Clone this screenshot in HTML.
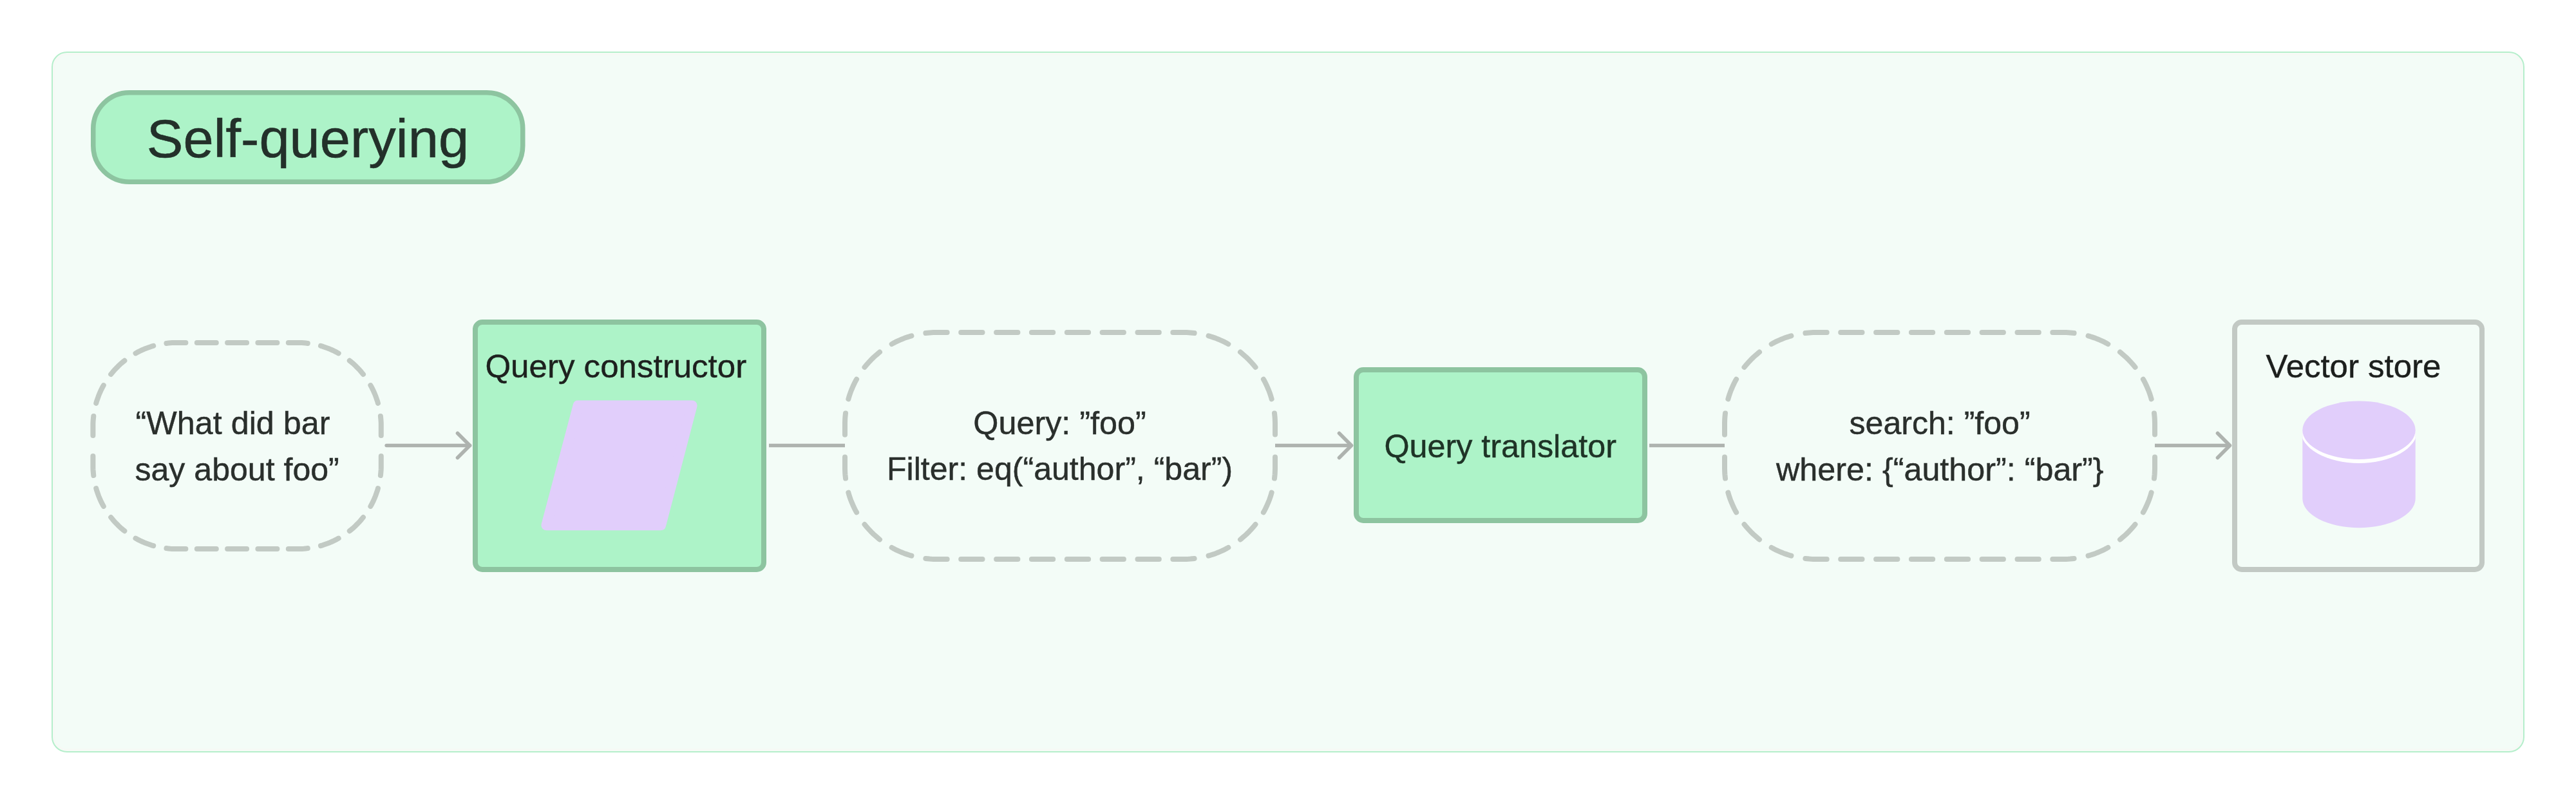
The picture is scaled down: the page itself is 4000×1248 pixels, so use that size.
<!DOCTYPE html>
<html><head><meta charset="utf-8"><title>Self-querying</title>
<style>html,body{margin:0;padding:0;background:#FFFFFF;}svg{display:block}text{font-family:"Liberation Sans",sans-serif;}</style>
</head><body>
<svg width="4000" height="1248" viewBox="0 0 4000 1248">
<rect x='81' y='81' width='3838' height='1086' rx='23' ry='23' fill='#F3FCF7' stroke='#B5EECB' stroke-width='2'/>
<rect x='84.2' y='84.2' width='3831.6' height='1079.6' rx='20' ry='20' fill='none' stroke='#F6F9F5' stroke-width='3'/>
<rect x='144.75' y='143.75' width='667' height='138.5' rx='56' ry='56' fill='#ADF3C8' stroke='#8DC4A0' stroke-width='7.5'/>
<path d='M258.4 532.9 L261.4 532.6 L264.4 532.3 L267.4 532.1 L270.4 532.0 L273.4 532.0 L276.4 532.0 L279.4 532.0 L282.4 532.0 L285.4 532.0 L288.4 532.0 M305.8 532.0 L308.8 532.0 L311.8 532.0 L314.8 532.0 L317.8 532.0 L320.8 532.0 L323.8 532.0 L326.8 532.0 L329.8 532.0 L332.8 532.0 L335.8 532.0 M353.1 532.0 L356.1 532.0 L359.1 532.0 L362.1 532.0 L365.1 532.0 L368.1 532.0 L371.1 532.0 L374.1 532.0 L377.1 532.0 L380.1 532.0 L383.1 532.0 M400.4 532.0 L403.4 532.0 L406.4 532.0 L409.4 532.0 L412.4 532.0 L415.4 532.0 L418.4 532.0 L421.4 532.0 L424.4 532.0 L427.4 532.0 L430.4 532.0 M447.8 532.0 L450.8 532.0 L453.8 532.0 L456.8 532.0 L459.8 532.0 L462.8 532.0 L465.8 532.0 L468.8 532.1 L471.8 532.3 L474.8 532.6 L477.8 532.9 M498.0 536.9 L500.9 537.7 L503.7 538.7 L506.6 539.7 L509.4 540.7 L512.2 541.8 L514.9 543.0 L517.7 544.2 L520.4 545.6 L523.0 546.9 L525.7 548.4 M542.8 559.8 L545.1 561.7 L547.4 563.6 L549.7 565.6 L551.9 567.7 L554.0 569.8 L556.1 571.9 L558.2 574.1 L560.2 576.4 L562.1 578.7 L564.0 581.0 M575.4 598.1 L576.9 600.8 L578.2 603.4 L579.6 606.1 L580.8 608.9 L582.0 611.6 L583.1 614.4 L584.1 617.2 L585.1 620.1 L586.1 622.9 L586.9 625.8 M590.9 646.0 L591.2 649.0 L591.5 652.0 L591.7 655.0 L591.8 658.0 L591.8 661.0 L591.8 664.0 L591.8 667.0 L591.8 670.0 L591.8 673.0 L591.8 676.0 M591.8 708.0 L591.8 711.0 L591.8 714.0 L591.8 717.0 L591.8 720.0 L591.8 723.0 L591.8 726.0 L591.7 729.0 L591.5 732.0 L591.2 735.0 L590.9 738.0 M586.9 758.2 L586.1 761.1 L585.1 763.9 L584.1 766.8 L583.1 769.6 L582.0 772.4 L580.8 775.1 L579.6 777.9 L578.2 780.6 L576.9 783.2 L575.4 785.9 M564.0 803.0 L562.1 805.3 L560.2 807.6 L558.2 809.9 L556.1 812.1 L554.0 814.2 L551.9 816.3 L549.7 818.4 L547.4 820.4 L545.1 822.3 L542.8 824.2 M525.7 835.6 L523.0 837.1 L520.4 838.4 L517.7 839.8 L514.9 841.0 L512.2 842.2 L509.4 843.3 L506.6 844.3 L503.7 845.3 L500.9 846.3 L498.0 847.1 M477.8 851.1 L474.8 851.4 L471.8 851.7 L468.8 851.9 L465.8 852.0 L462.8 852.0 L459.8 852.0 L456.8 852.0 L453.8 852.0 L450.8 852.0 L447.8 852.0 M430.4 852.0 L427.4 852.0 L424.4 852.0 L421.4 852.0 L418.4 852.0 L415.4 852.0 L412.4 852.0 L409.4 852.0 L406.4 852.0 L403.4 852.0 L400.4 852.0 M383.1 852.0 L380.1 852.0 L377.1 852.0 L374.1 852.0 L371.1 852.0 L368.1 852.0 L365.1 852.0 L362.1 852.0 L359.1 852.0 L356.1 852.0 L353.1 852.0 M335.8 852.0 L332.8 852.0 L329.8 852.0 L326.8 852.0 L323.8 852.0 L320.8 852.0 L317.8 852.0 L314.8 852.0 L311.8 852.0 L308.8 852.0 L305.8 852.0 M288.4 852.0 L285.4 852.0 L282.4 852.0 L279.4 852.0 L276.4 852.0 L273.4 852.0 L270.4 852.0 L267.4 851.9 L264.4 851.7 L261.4 851.4 L258.4 851.1 M238.2 847.1 L235.3 846.3 L232.5 845.3 L229.6 844.3 L226.8 843.3 L224.0 842.2 L221.3 841.0 L218.5 839.8 L215.8 838.4 L213.2 837.1 L210.5 835.6 M193.4 824.2 L191.1 822.3 L188.8 820.4 L186.5 818.4 L184.3 816.3 L182.2 814.2 L180.1 812.1 L178.0 809.9 L176.0 807.6 L174.1 805.3 L172.2 803.0 M160.8 785.9 L159.3 783.2 L158.0 780.6 L156.6 777.9 L155.4 775.1 L154.2 772.4 L153.1 769.6 L152.1 766.8 L151.1 763.9 L150.1 761.1 L149.3 758.2 M145.3 738.0 L145.0 735.0 L144.7 732.0 L144.5 729.0 L144.4 726.0 L144.4 723.0 L144.4 720.0 L144.4 717.0 L144.4 714.0 L144.4 711.0 L144.4 708.0 M144.4 676.0 L144.4 673.0 L144.4 670.0 L144.4 667.0 L144.4 664.0 L144.4 661.0 L144.4 658.0 L144.5 655.0 L144.7 652.0 L145.0 649.0 L145.3 646.0 M149.3 625.8 L150.1 622.9 L151.1 620.1 L152.1 617.2 L153.1 614.4 L154.2 611.6 L155.4 608.9 L156.6 606.1 L158.0 603.4 L159.3 600.8 L160.8 598.1 M172.2 581.0 L174.1 578.7 L176.0 576.4 L178.0 574.1 L180.1 571.9 L182.2 569.8 L184.3 567.7 L186.5 565.6 L188.8 563.6 L191.1 561.7 L193.4 559.8 M210.5 548.4 L213.2 546.9 L215.8 545.6 L218.5 544.2 L221.3 543.0 L224.0 541.8 L226.8 540.7 L229.6 539.7 L232.5 538.7 L235.3 537.7 L238.2 536.9' fill='none' stroke='#C2CAC4' stroke-width='8' stroke-linecap='round' stroke-linejoin='round'/>
<path d='M1437.4 517.0 L1440.4 516.7 L1443.4 516.4 L1446.4 516.2 L1449.5 516.1 L1452.5 516.0 L1455.5 516.0 L1458.5 516.0 L1461.6 516.0 L1464.6 516.0 L1467.6 516.0 L1470.7 516.0 M1492.2 516.0 L1495.2 516.0 L1498.3 516.0 L1501.3 516.0 L1504.3 516.0 L1507.3 516.0 L1510.4 516.0 L1513.4 516.0 L1516.4 516.0 L1519.5 516.0 L1522.5 516.0 L1525.5 516.0 M1547.1 516.0 L1550.1 516.0 L1553.1 516.0 L1556.1 516.0 L1559.2 516.0 L1562.2 516.0 L1565.2 516.0 L1568.3 516.0 L1571.3 516.0 L1574.3 516.0 L1577.3 516.0 L1580.4 516.0 M1601.9 516.0 L1604.9 516.0 L1608.0 516.0 L1611.0 516.0 L1614.0 516.0 L1617.1 516.0 L1620.1 516.0 L1623.1 516.0 L1626.1 516.0 L1629.2 516.0 L1632.2 516.0 L1635.2 516.0 M1656.8 516.0 L1659.8 516.0 L1662.8 516.0 L1665.9 516.0 L1668.9 516.0 L1671.9 516.0 L1674.9 516.0 L1678.0 516.0 L1681.0 516.0 L1684.0 516.0 L1687.1 516.0 L1690.1 516.0 M1711.6 516.0 L1714.7 516.0 L1717.7 516.0 L1720.7 516.0 L1723.7 516.0 L1726.8 516.0 L1729.8 516.0 L1732.8 516.0 L1735.9 516.0 L1738.9 516.0 L1741.9 516.0 L1744.9 516.0 M1766.5 516.0 L1769.5 516.0 L1772.5 516.0 L1775.6 516.0 L1778.6 516.0 L1781.6 516.0 L1784.7 516.0 L1787.7 516.0 L1790.7 516.0 L1793.7 516.0 L1796.8 516.0 L1799.8 516.0 M1821.3 516.0 L1824.4 516.0 L1827.4 516.0 L1830.4 516.0 L1833.5 516.0 L1836.5 516.0 L1839.5 516.0 L1842.5 516.1 L1845.6 516.2 L1848.6 516.4 L1851.6 516.7 L1854.6 517.0 M1876.6 521.4 L1879.5 522.2 L1882.4 523.1 L1885.3 524.1 L1888.1 525.1 L1890.9 526.2 L1893.7 527.4 L1896.5 528.6 L1899.3 529.9 L1902.0 531.2 L1904.7 532.6 L1907.3 534.1 M1926.0 546.5 L1928.3 548.4 L1930.6 550.4 L1932.9 552.4 L1935.1 554.4 L1937.3 556.5 L1939.5 558.7 L1941.6 560.9 L1943.6 563.1 L1945.6 565.4 L1947.6 567.7 L1949.5 570.0 M1961.9 588.7 L1963.4 591.3 L1964.8 594.0 L1966.1 596.7 L1967.4 599.5 L1968.6 602.3 L1969.8 605.1 L1970.9 607.9 L1971.9 610.7 L1972.9 613.6 L1973.8 616.5 L1974.6 619.4 M1979.0 641.4 L1979.3 644.4 L1979.6 647.4 L1979.8 650.4 L1979.9 653.5 L1980.0 656.5 L1980.0 659.5 L1980.0 662.5 L1980.0 665.6 L1980.0 668.6 L1980.0 671.6 L1980.0 674.6 M1980.0 709.4 L1980.0 712.4 L1980.0 715.4 L1980.0 718.4 L1980.0 721.5 L1980.0 724.5 L1980.0 727.5 L1979.9 730.5 L1979.8 733.6 L1979.6 736.6 L1979.3 739.6 L1979.0 742.6 M1974.6 764.6 L1973.8 767.5 L1972.9 770.4 L1971.9 773.3 L1970.9 776.1 L1969.8 778.9 L1968.6 781.7 L1967.4 784.5 L1966.1 787.3 L1964.8 790.0 L1963.4 792.7 L1961.9 795.3 M1949.5 814.0 L1947.6 816.3 L1945.6 818.6 L1943.6 820.9 L1941.6 823.1 L1939.5 825.3 L1937.3 827.5 L1935.1 829.6 L1932.9 831.6 L1930.6 833.6 L1928.3 835.6 L1926.0 837.5 M1907.3 849.9 L1904.7 851.4 L1902.0 852.8 L1899.3 854.1 L1896.5 855.4 L1893.7 856.6 L1890.9 857.8 L1888.1 858.9 L1885.3 859.9 L1882.4 860.9 L1879.5 861.8 L1876.6 862.6 M1854.6 867.0 L1851.6 867.3 L1848.6 867.6 L1845.6 867.8 L1842.5 867.9 L1839.5 868.0 L1836.5 868.0 L1833.5 868.0 L1830.4 868.0 L1827.4 868.0 L1824.4 868.0 L1821.3 868.0 M1799.8 868.0 L1796.8 868.0 L1793.7 868.0 L1790.7 868.0 L1787.7 868.0 L1784.7 868.0 L1781.6 868.0 L1778.6 868.0 L1775.6 868.0 L1772.5 868.0 L1769.5 868.0 L1766.5 868.0 M1744.9 868.0 L1741.9 868.0 L1738.9 868.0 L1735.9 868.0 L1732.8 868.0 L1729.8 868.0 L1726.8 868.0 L1723.7 868.0 L1720.7 868.0 L1717.7 868.0 L1714.7 868.0 L1711.6 868.0 M1690.1 868.0 L1687.1 868.0 L1684.0 868.0 L1681.0 868.0 L1678.0 868.0 L1674.9 868.0 L1671.9 868.0 L1668.9 868.0 L1665.9 868.0 L1662.8 868.0 L1659.8 868.0 L1656.8 868.0 M1635.2 868.0 L1632.2 868.0 L1629.2 868.0 L1626.1 868.0 L1623.1 868.0 L1620.1 868.0 L1617.1 868.0 L1614.0 868.0 L1611.0 868.0 L1608.0 868.0 L1604.9 868.0 L1601.9 868.0 M1580.4 868.0 L1577.3 868.0 L1574.3 868.0 L1571.3 868.0 L1568.3 868.0 L1565.2 868.0 L1562.2 868.0 L1559.2 868.0 L1556.1 868.0 L1553.1 868.0 L1550.1 868.0 L1547.1 868.0 M1525.5 868.0 L1522.5 868.0 L1519.5 868.0 L1516.4 868.0 L1513.4 868.0 L1510.4 868.0 L1507.3 868.0 L1504.3 868.0 L1501.3 868.0 L1498.3 868.0 L1495.2 868.0 L1492.2 868.0 M1470.7 868.0 L1467.6 868.0 L1464.6 868.0 L1461.6 868.0 L1458.5 868.0 L1455.5 868.0 L1452.5 868.0 L1449.5 867.9 L1446.4 867.8 L1443.4 867.6 L1440.4 867.3 L1437.4 867.0 M1415.4 862.6 L1412.5 861.8 L1409.6 860.9 L1406.7 859.9 L1403.9 858.9 L1401.1 857.8 L1398.3 856.6 L1395.5 855.4 L1392.7 854.1 L1390.0 852.8 L1387.3 851.4 L1384.7 849.9 M1366.0 837.5 L1363.7 835.6 L1361.4 833.6 L1359.1 831.6 L1356.9 829.6 L1354.7 827.5 L1352.5 825.3 L1350.4 823.1 L1348.4 820.9 L1346.4 818.6 L1344.4 816.3 L1342.5 814.0 M1330.1 795.3 L1328.6 792.7 L1327.2 790.0 L1325.9 787.3 L1324.6 784.5 L1323.4 781.7 L1322.2 778.9 L1321.1 776.1 L1320.1 773.3 L1319.1 770.4 L1318.2 767.5 L1317.4 764.6 M1313.0 742.6 L1312.7 739.6 L1312.4 736.6 L1312.2 733.6 L1312.1 730.5 L1312.0 727.5 L1312.0 724.5 L1312.0 721.5 L1312.0 718.4 L1312.0 715.4 L1312.0 712.4 L1312.0 709.4 M1312.0 674.7 L1312.0 671.6 L1312.0 668.6 L1312.0 665.6 L1312.0 662.5 L1312.0 659.5 L1312.0 656.5 L1312.1 653.5 L1312.2 650.4 L1312.4 647.4 L1312.7 644.4 L1313.0 641.4 M1317.4 619.4 L1318.2 616.5 L1319.1 613.6 L1320.1 610.7 L1321.1 607.9 L1322.2 605.1 L1323.4 602.3 L1324.6 599.5 L1325.9 596.7 L1327.2 594.0 L1328.6 591.3 L1330.1 588.7 M1342.5 570.0 L1344.4 567.7 L1346.4 565.4 L1348.4 563.1 L1350.4 560.9 L1352.5 558.7 L1354.7 556.5 L1356.9 554.4 L1359.1 552.4 L1361.4 550.4 L1363.7 548.4 L1366.0 546.5 M1384.7 534.1 L1387.3 532.6 L1390.0 531.2 L1392.7 529.9 L1395.5 528.6 L1398.3 527.4 L1401.1 526.2 L1403.9 525.1 L1406.7 524.1 L1409.6 523.1 L1412.5 522.2 L1415.4 521.4' fill='none' stroke='#C2CAC4' stroke-width='8' stroke-linecap='round' stroke-linejoin='round'/>
<path d='M2803.4 517.0 L2806.4 516.7 L2809.4 516.4 L2812.4 516.2 L2815.5 516.1 L2818.5 516.0 L2821.5 516.0 L2824.5 516.0 L2827.6 516.0 L2830.6 516.0 L2833.6 516.0 L2836.7 516.0 M2858.2 516.0 L2861.2 516.0 L2864.3 516.0 L2867.3 516.0 L2870.3 516.0 L2873.3 516.0 L2876.4 516.0 L2879.4 516.0 L2882.4 516.0 L2885.5 516.0 L2888.5 516.0 L2891.5 516.0 M2913.1 516.0 L2916.1 516.0 L2919.1 516.0 L2922.1 516.0 L2925.2 516.0 L2928.2 516.0 L2931.2 516.0 L2934.3 516.0 L2937.3 516.0 L2940.3 516.0 L2943.3 516.0 L2946.4 516.0 M2967.9 516.0 L2970.9 516.0 L2974.0 516.0 L2977.0 516.0 L2980.0 516.0 L2983.1 516.0 L2986.1 516.0 L2989.1 516.0 L2992.1 516.0 L2995.2 516.0 L2998.2 516.0 L3001.2 516.0 M3022.8 516.0 L3025.8 516.0 L3028.8 516.0 L3031.9 516.0 L3034.9 516.0 L3037.9 516.0 L3040.9 516.0 L3044.0 516.0 L3047.0 516.0 L3050.0 516.0 L3053.1 516.0 L3056.1 516.0 M3077.6 516.0 L3080.7 516.0 L3083.7 516.0 L3086.7 516.0 L3089.7 516.0 L3092.8 516.0 L3095.8 516.0 L3098.8 516.0 L3101.9 516.0 L3104.9 516.0 L3107.9 516.0 L3110.9 516.0 M3132.5 516.0 L3135.5 516.0 L3138.5 516.0 L3141.6 516.0 L3144.6 516.0 L3147.6 516.0 L3150.7 516.0 L3153.7 516.0 L3156.7 516.0 L3159.7 516.0 L3162.8 516.0 L3165.8 516.0 M3187.3 516.0 L3190.4 516.0 L3193.4 516.0 L3196.4 516.0 L3199.5 516.0 L3202.5 516.0 L3205.5 516.0 L3208.5 516.1 L3211.6 516.2 L3214.6 516.4 L3217.6 516.7 L3220.6 517.0 M3242.6 521.4 L3245.5 522.2 L3248.4 523.1 L3251.3 524.1 L3254.1 525.1 L3256.9 526.2 L3259.7 527.4 L3262.5 528.6 L3265.3 529.9 L3268.0 531.2 L3270.7 532.6 L3273.3 534.1 M3292.0 546.5 L3294.3 548.4 L3296.6 550.4 L3298.9 552.4 L3301.1 554.4 L3303.3 556.5 L3305.5 558.7 L3307.6 560.9 L3309.6 563.1 L3311.6 565.4 L3313.6 567.7 L3315.5 570.0 M3327.9 588.7 L3329.4 591.3 L3330.8 594.0 L3332.1 596.7 L3333.4 599.5 L3334.6 602.3 L3335.8 605.1 L3336.9 607.9 L3337.9 610.7 L3338.9 613.6 L3339.8 616.5 L3340.6 619.4 M3345.0 641.4 L3345.3 644.4 L3345.6 647.4 L3345.8 650.4 L3345.9 653.5 L3346.0 656.5 L3346.0 659.5 L3346.0 662.5 L3346.0 665.6 L3346.0 668.6 L3346.0 671.6 L3346.0 674.6 M3346.0 709.4 L3346.0 712.4 L3346.0 715.4 L3346.0 718.4 L3346.0 721.5 L3346.0 724.5 L3346.0 727.5 L3345.9 730.5 L3345.8 733.6 L3345.6 736.6 L3345.3 739.6 L3345.0 742.6 M3340.6 764.6 L3339.8 767.5 L3338.9 770.4 L3337.9 773.3 L3336.9 776.1 L3335.8 778.9 L3334.6 781.7 L3333.4 784.5 L3332.1 787.3 L3330.8 790.0 L3329.4 792.7 L3327.9 795.3 M3315.5 814.0 L3313.6 816.3 L3311.6 818.6 L3309.6 820.9 L3307.6 823.1 L3305.5 825.3 L3303.3 827.5 L3301.1 829.6 L3298.9 831.6 L3296.6 833.6 L3294.3 835.6 L3292.0 837.5 M3273.3 849.9 L3270.7 851.4 L3268.0 852.8 L3265.3 854.1 L3262.5 855.4 L3259.7 856.6 L3256.9 857.8 L3254.1 858.9 L3251.3 859.9 L3248.4 860.9 L3245.5 861.8 L3242.6 862.6 M3220.6 867.0 L3217.6 867.3 L3214.6 867.6 L3211.6 867.8 L3208.5 867.9 L3205.5 868.0 L3202.5 868.0 L3199.5 868.0 L3196.4 868.0 L3193.4 868.0 L3190.4 868.0 L3187.3 868.0 M3165.8 868.0 L3162.8 868.0 L3159.7 868.0 L3156.7 868.0 L3153.7 868.0 L3150.7 868.0 L3147.6 868.0 L3144.6 868.0 L3141.6 868.0 L3138.5 868.0 L3135.5 868.0 L3132.5 868.0 M3110.9 868.0 L3107.9 868.0 L3104.9 868.0 L3101.9 868.0 L3098.8 868.0 L3095.8 868.0 L3092.8 868.0 L3089.7 868.0 L3086.7 868.0 L3083.7 868.0 L3080.7 868.0 L3077.6 868.0 M3056.1 868.0 L3053.1 868.0 L3050.0 868.0 L3047.0 868.0 L3044.0 868.0 L3040.9 868.0 L3037.9 868.0 L3034.9 868.0 L3031.9 868.0 L3028.8 868.0 L3025.8 868.0 L3022.8 868.0 M3001.2 868.0 L2998.2 868.0 L2995.2 868.0 L2992.1 868.0 L2989.1 868.0 L2986.1 868.0 L2983.1 868.0 L2980.0 868.0 L2977.0 868.0 L2974.0 868.0 L2970.9 868.0 L2967.9 868.0 M2946.4 868.0 L2943.3 868.0 L2940.3 868.0 L2937.3 868.0 L2934.3 868.0 L2931.2 868.0 L2928.2 868.0 L2925.2 868.0 L2922.1 868.0 L2919.1 868.0 L2916.1 868.0 L2913.1 868.0 M2891.5 868.0 L2888.5 868.0 L2885.5 868.0 L2882.4 868.0 L2879.4 868.0 L2876.4 868.0 L2873.3 868.0 L2870.3 868.0 L2867.3 868.0 L2864.3 868.0 L2861.2 868.0 L2858.2 868.0 M2836.7 868.0 L2833.6 868.0 L2830.6 868.0 L2827.6 868.0 L2824.5 868.0 L2821.5 868.0 L2818.5 868.0 L2815.5 867.9 L2812.4 867.8 L2809.4 867.6 L2806.4 867.3 L2803.4 867.0 M2781.4 862.6 L2778.5 861.8 L2775.6 860.9 L2772.7 859.9 L2769.9 858.9 L2767.1 857.8 L2764.3 856.6 L2761.5 855.4 L2758.7 854.1 L2756.0 852.8 L2753.3 851.4 L2750.7 849.9 M2732.0 837.5 L2729.7 835.6 L2727.4 833.6 L2725.1 831.6 L2722.9 829.6 L2720.7 827.5 L2718.5 825.3 L2716.4 823.1 L2714.4 820.9 L2712.4 818.6 L2710.4 816.3 L2708.5 814.0 M2696.1 795.3 L2694.6 792.7 L2693.2 790.0 L2691.9 787.3 L2690.6 784.5 L2689.4 781.7 L2688.2 778.9 L2687.1 776.1 L2686.1 773.3 L2685.1 770.4 L2684.2 767.5 L2683.4 764.6 M2679.0 742.6 L2678.7 739.6 L2678.4 736.6 L2678.2 733.6 L2678.1 730.5 L2678.0 727.5 L2678.0 724.5 L2678.0 721.5 L2678.0 718.4 L2678.0 715.4 L2678.0 712.4 L2678.0 709.4 M2678.0 674.7 L2678.0 671.6 L2678.0 668.6 L2678.0 665.6 L2678.0 662.5 L2678.0 659.5 L2678.0 656.5 L2678.1 653.5 L2678.2 650.4 L2678.4 647.4 L2678.7 644.4 L2679.0 641.4 M2683.4 619.4 L2684.2 616.5 L2685.1 613.6 L2686.1 610.7 L2687.1 607.9 L2688.2 605.1 L2689.4 602.3 L2690.6 599.5 L2691.9 596.7 L2693.2 594.0 L2694.6 591.3 L2696.1 588.7 M2708.5 570.0 L2710.4 567.7 L2712.4 565.4 L2714.4 563.1 L2716.4 560.9 L2718.5 558.7 L2720.7 556.5 L2722.9 554.4 L2725.1 552.4 L2727.4 550.4 L2729.7 548.4 L2732.0 546.5 M2750.7 534.1 L2753.3 532.6 L2756.0 531.2 L2758.7 529.9 L2761.5 528.6 L2764.3 527.4 L2767.1 526.2 L2769.9 525.1 L2772.7 524.1 L2775.6 523.1 L2778.5 522.2 L2781.4 521.4' fill='none' stroke='#C2CAC4' stroke-width='8' stroke-linecap='round' stroke-linejoin='round'/>
<rect x='738' y='500' width='448' height='384' rx='11' ry='11' fill='#ADF3C8' stroke='#8DC4A0' stroke-width='8'/>
<rect x='2106' y='574' width='448' height='234' rx='11' ry='11' fill='#ADF3C8' stroke='#8DC4A0' stroke-width='8'/>
<rect x='3470' y='500' width='384' height='384' rx='11' ry='11' fill='none' stroke='#C2C9C4' stroke-width='8'/>
<polygon points='897.66,629.50 1074.64,629.50 1026.12,815.30 848.40,815.30' fill='#E1CEFB' stroke='#E1CEFB' stroke-width='16' stroke-linejoin='round'/>
<defs><clipPath id='cyl'><rect x='3575.3' y='667.7' width='175.4' height='200'/></clipPath></defs>
<path d='M3575.3,667.7 V774 A87.7,45.2 0 0 0 3750.7,774 V667.7 Z' fill='#E1CEFB'/>
<g clip-path='url(#cyl)'><ellipse cx='3663' cy='667.7' rx='90.7' ry='51.2' fill='#FFFFFF'/></g>
<ellipse cx='3663' cy='667.7' rx='87.7' ry='45.2' fill='#E1CEFB'/>
<path d='M600.2,691.5 H729.5' stroke='#AEB3AF' stroke-width='5.6' stroke-linecap='round' fill='none'/><path d='M710.5,672.5 L729.5,691.5 L710.5,710.5' stroke='#AEB3AF' stroke-width='5.6' stroke-linecap='round' stroke-linejoin='round' fill='none'/>
<path d='M1194,691.5 H1312' stroke='#AEB3AF' stroke-width='5.6' fill='none'/>
<path d='M1980,691.5 H2098.5' stroke='#AEB3AF' stroke-width='5.6' fill='none'/><path d='M2079.5,672.5 L2098.5,691.5 L2079.5,710.5' stroke='#AEB3AF' stroke-width='5.6' stroke-linecap='round' stroke-linejoin='round' fill='none'/>
<path d='M2561,691.5 H2678' stroke='#AEB3AF' stroke-width='5.6' fill='none'/>
<path d='M3346,691.5 H3462.5' stroke='#AEB3AF' stroke-width='5.6' fill='none'/><path d='M3443.5,672.5 L3462.5,691.5 L3443.5,710.5' stroke='#AEB3AF' stroke-width='5.6' stroke-linecap='round' stroke-linejoin='round' fill='none'/>
<text transform='translate(227.75 244.2) scale(1 0.972)' font-size='84.95' fill='#23302A' stroke='#23302A' stroke-width='0.6'>Self-querying</text>
<text transform='translate(210.6 674.4) scale(1 0.985)' font-size='50.29' fill='#2A2F2C' stroke='#2A2F2C' stroke-width='0.45'>“What did bar</text>
<text transform='translate(209.5 745.8) scale(1 0.985)' font-size='50.08' fill='#2A2F2C' stroke='#2A2F2C' stroke-width='0.45'>say about foo”</text>
<text transform='translate(753.4 586.1999999999999) scale(1 0.985)' font-size='51.07' fill='#1D201E' stroke='#1D201E' stroke-width='0.45'>Query constructor</text>
<text transform='translate(1511.3 673.9) scale(1 0.985)' font-size='50.32' fill='#2A2F2C' stroke='#2A2F2C' stroke-width='0.45'>Query: ”foo”</text>
<text transform='translate(1377 745.4) scale(1 0.985)' font-size='50.09' fill='#2A2F2C' stroke='#2A2F2C' stroke-width='0.45'>Filter: eq(“author”, “bar”)</text>
<text transform='translate(2149.5 710.1999999999999) scale(1 0.985)' font-size='50.28' fill='#1E3326' stroke='#1E3326' stroke-width='0.45'>Query translator</text>
<text transform='translate(2871.5 673.8) scale(1 0.985)' font-size='50.09' fill='#2A2F2C' stroke='#2A2F2C' stroke-width='0.45'>search: ”foo”</text>
<text transform='translate(2758 745.9) scale(1 0.985)' font-size='50.3' fill='#2A2F2C' stroke='#2A2F2C' stroke-width='0.45'>where: {“author”: “bar”}</text>
<text transform='translate(3518.5 586.1999999999999) scale(1 0.985)' font-size='50.95' fill='#1C1F1D' stroke='#1C1F1D' stroke-width='0.45'>Vector store</text>
</svg>
</body></html>
